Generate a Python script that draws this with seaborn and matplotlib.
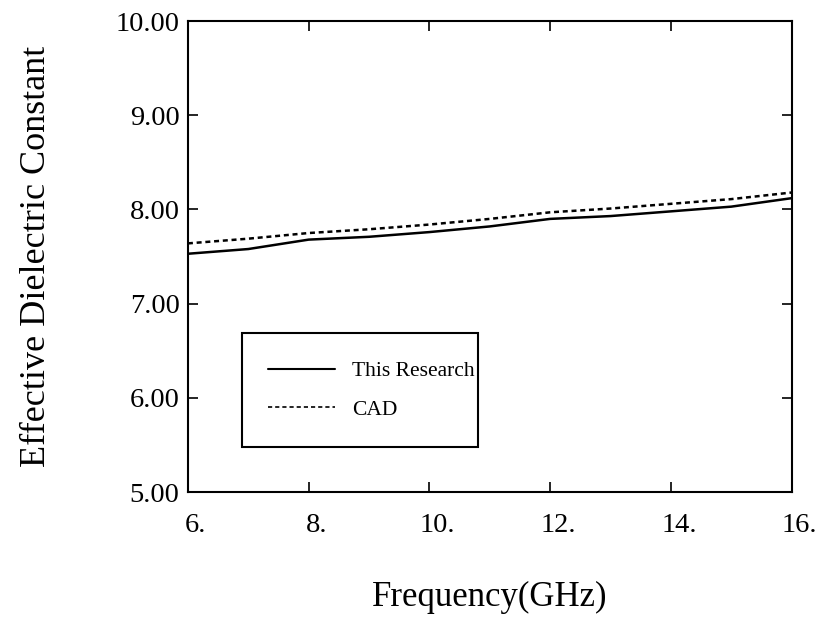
import matplotlib
matplotlib.use("Agg")
import matplotlib.pyplot as plt
import matplotlib.transforms as mtransforms
from matplotlib.patches import Rectangle
from matplotlib.lines import Line2D
import seaborn as sns
import pandas as pd

freq = [6, 7, 8, 9, 10, 11, 12, 13, 14, 15, 16]
this_research = [7.53, 7.58, 7.68, 7.71, 7.76, 7.82, 7.90, 7.93, 7.98, 8.03, 8.12]
cad = [7.64, 7.69, 7.75, 7.79, 7.84, 7.90, 7.97, 8.01, 8.06, 8.11, 8.18]
x_ticks = [6, 8, 10, 12, 14, 16]
x_labels = ["6.", "8.", "10.", "12.", "14.", "16."]
y_ticks = [5, 6, 7, 8, 9, 10]
y_labels = ["5.00", "6.00", "7.00", "8.00", "9.00", "10.00"]

sns.set_theme(style="white")
plt.rcParams['font.family'] = ['Liberation Serif', 'DejaVu Serif']
plt.rcParams['text.color'] = 'black'
plt.rcParams['axes.labelcolor'] = 'black'
plt.rcParams['xtick.color'] = 'black'
plt.rcParams['ytick.color'] = 'black'

df = pd.DataFrame({"freq": freq * 2,
                   "value": this_research + cad,
                   "series": ["This Research"] * len(freq) + ["CAD"] * len(freq)})

fig = plt.figure(figsize=(8.17, 6.19), dpi=100)
ax = fig.add_axes([0.230, 0.205, 0.739, 0.761])
sns.lineplot(data=df, x="freq", y="value", hue="series", style="series",
             palette={"This Research": "black", "CAD": "black"},
             dashes={"This Research": "", "CAD": (2, 1.5)},
             linewidth=1.8, ax=ax, legend=False)

ax.set_xlim(6, 16)
ax.set_ylim(5, 10)
ax.set_xticks(x_ticks)
ax.set_xticklabels(x_labels, fontsize=20.5)
ax.set_yticks(y_ticks)
ax.set_yticklabels(y_labels, fontsize=20.5)
ax.tick_params(direction="in", length=7, width=1.2, top=True, right=True,
               bottom=True, left=True, colors="black")
ax.tick_params(axis="x", pad=15)
ax.tick_params(axis="y", pad=6)
offset = mtransforms.ScaledTranslation(0.08, 0, fig.dpi_scale_trans)
for lab in ax.get_xticklabels():
    lab.set_transform(lab.get_transform() + offset)
for s in ax.spines.values():
    s.set_color("black")
    s.set_linewidth(1.5)
ax.set_xlabel("Frequency(GHz)", fontsize=25, labelpad=31)
ax.set_ylabel("Effective Dielectric Constant", fontsize=26, labelpad=45)

# legend box
ax.add_patch(Rectangle((0.090, 0.0955), 0.390, 0.242, transform=ax.transAxes,
                       fill=False, edgecolor="black", linewidth=1.5, zorder=5))
handles = [Line2D([], [], color="black", lw=1.5),
           Line2D([], [], color="black", lw=1.2, dashes=(2.5, 1.8))]
leg = ax.legend(handles, ["This Research", "CAD"], loc="upper left",
                bbox_to_anchor=(0.1325, 0.278), fontsize=15.5, frameon=False,
                handlelength=3.1, handletextpad=0.8, borderpad=0,
                labelspacing=0.86, borderaxespad=0)

fig.savefig("out.png", dpi=100, facecolor="white")
